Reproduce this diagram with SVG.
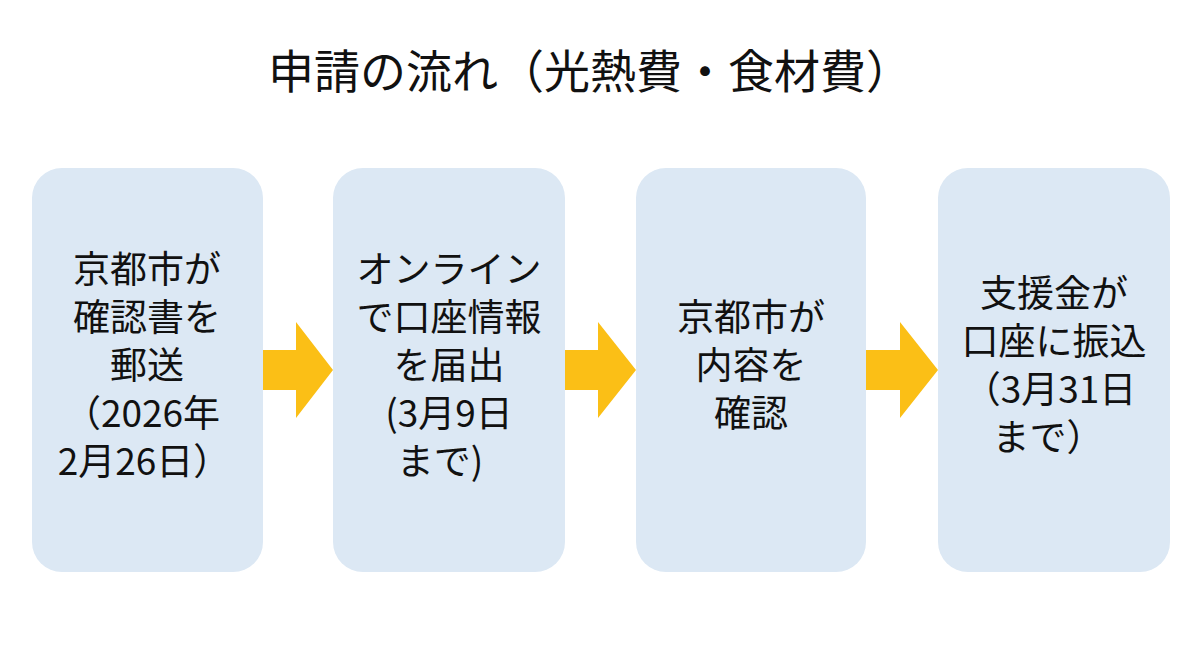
<svg xmlns="http://www.w3.org/2000/svg" width="1200" height="655" viewBox="0 0 1200 655">
<style>
.box{fill:#dce8f4}
.t{font-family:"Noto Sans CJK JP","Noto Sans",sans-serif;font-size:37px;fill:#111;text-anchor:middle}
.arr{fill:#fbbf16}
</style>
<rect width="1200" height="655" fill="#fff"/>
<text x="590" y="88" class="t" style="font-size:46px">申請の流れ（光熱費・食材費）</text>
<g id="connectors">
<polygon class="arr" points="263,350 296,350 296,322 333,370 296,418 296,390 263,390"/>
<polygon class="arr" points="565,350 598,350 598,322 636,370 598,418 598,390 565,390"/>
<polygon class="arr" points="866,350 900,350 900,322 938,370 900,418 900,390 866,390"/>
</g>
<g id="n1"><rect class="box" x="32" y="168" width="231" height="404" rx="30"/>
<text class="t" x="147" y="283">京都市が</text><text class="t" x="147" y="331">確認書を</text><text class="t" x="147" y="379">郵送</text><text class="t" x="142" y="427">（2026年</text><text class="t" x="144" y="475">2月26日）</text></g>
<g id="n2"><rect class="box" x="333" y="168" width="232" height="404" rx="30"/>
<text class="t" x="449" y="283">オンライン</text><text class="t" x="449" y="331">で口座情報</text><text class="t" x="449" y="379">を届出</text><text class="t" x="449" y="427">(3月9日</text><text class="t" x="440" y="475">まで)</text></g>
<g id="n3"><rect class="box" x="636" y="168" width="230" height="404" rx="30"/>
<text class="t" x="751" y="331">京都市が</text><text class="t" x="751" y="379">内容を</text><text class="t" x="751" y="427">確認</text></g>
<g id="n4"><rect class="box" x="938" y="168" width="232" height="404" rx="30"/>
<text class="t" x="1054" y="307">支援金が</text><text class="t" x="1054" y="355">口座に振込</text><text class="t" x="1050" y="403">（3月31日</text><text class="t" x="1048" y="451">まで）</text></g>
</svg>
